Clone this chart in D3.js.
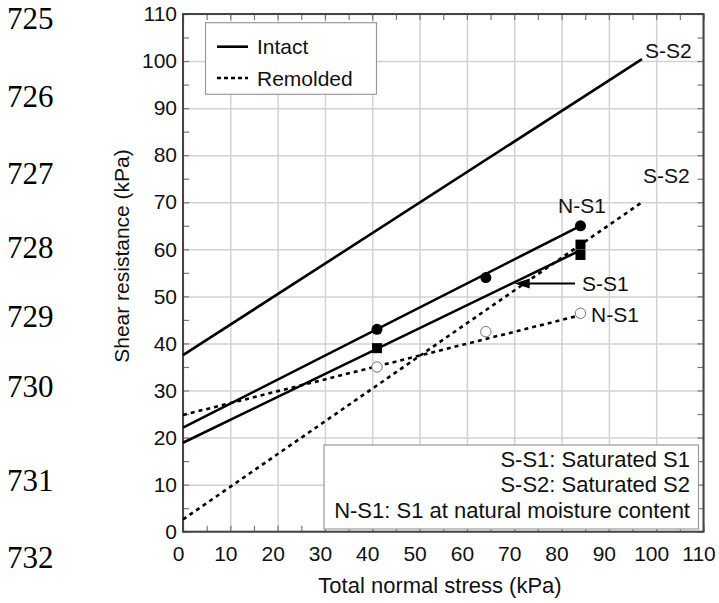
<!DOCTYPE html>
<html>
<head>
<meta charset="utf-8">
<script src="https://cdn.jsdelivr.net/npm/d3@7"></script>
<style>
  body { margin: 0; background: #fff; }
  text { font-family: "Liberation Sans", Arial, sans-serif; fill: #111; }
  .lineno { font-family: "Liberation Serif", "Times New Roman", serif; fill: #000; }
</style>
</head>
<body>
<div id="chart"></div>
<script>
// tick values (kPa)
const xTickValues = [0, 10, 20, 30, 40, 50, 60, 70, 80, 90, 100, 110];
const yTickValues = [0, 10, 20, 30, 40, 50, 60, 70, 80, 90, 100, 110];
const minorTickValues = d3.range(0, 111, 5);

// manuscript line numbers in the left margin
const lineNumbers = ["725", "726", "727", "728", "729", "730", "731", "732"];

// measured points [normal stress, shear resistance]
const intactNS1 = [[41, 43], [64, 54], [84, 65]];
const intactSS1 = [[41, 39], [84, 61], [84, 58.8]];
const remoldedNS1 = [[41, 35], [64, 42.5], [84, 46.4]];

// fitted failure envelopes (start, end)
const intactSS2Fit = [[0, 37.5], [97, 100.4]];
const intactNS1Fit = [[0, 22.1], [84, 65]];
const intactSS1Fit = [[0, 18.9], [84, 59.8]];
const remoldedSS2Fit = [[0, 2.6], [97, 70]];
const remoldedNS1Fit = [[0, 24.8], [84, 46]];

const legendNotes = ["S-S1: Saturated S1", "S-S2: Saturated S2", "N-S1: S1 at natural moisture content"];

let width = 719, height = 603;
let plotLeft = 183, plotRight = 703.5, plotTop = 14, plotBottom = 531.7;
// baselines of the margin numbers (page text lines, not evenly spaced)
let lineNoY = [29, 107, 184, 258, 327, 397, 491, 568];

let svg = d3.select("#chart").append("svg")
    .attr("width", width)
    .attr("height", height);

let x = d3.scaleLinear().domain([0, 110]).range([plotLeft, plotRight]);
let y = d3.scaleLinear().domain([0, 110]).range([plotBottom, plotTop]);

// line numbers
svg.selectAll(".lineno")
    .data(lineNumbers)
    .enter()
    .append("text")
    .attr("class", "lineno")
    .attr("x", 7)
    .attr("y", (d, i) => lineNoY[i])
    .attr("font-size", 31)
    .text(d => d);

// grid
let grid = svg.append("g");
grid.append("g")
    .attr("transform", `translate(0,${plotBottom})`)
    .call(d3.axisBottom(x).tickValues(xTickValues).tickSize(-(plotBottom - plotTop)).tickFormat(""));
grid.append("g")
    .attr("transform", `translate(${plotLeft},0)`)
    .call(d3.axisLeft(y).tickValues(yTickValues).tickSize(-(plotRight - plotLeft)).tickFormat(""));
grid.selectAll(".domain").remove();
grid.selectAll("line").attr("stroke", "#d2d2d2").attr("stroke-width", 1.5);

// inward minor ticks on all four sides
let ticks = svg.append("g");
ticks.append("g").attr("transform", `translate(0,${plotBottom})`)
    .call(d3.axisBottom(x).tickValues(minorTickValues).tickSize(-6).tickFormat(""));
ticks.append("g").attr("transform", `translate(0,${plotTop})`)
    .call(d3.axisTop(x).tickValues(minorTickValues).tickSize(-6).tickFormat(""));
ticks.append("g").attr("transform", `translate(${plotLeft},0)`)
    .call(d3.axisLeft(y).tickValues(minorTickValues).tickSize(-6).tickFormat(""));
ticks.append("g").attr("transform", `translate(${plotRight},0)`)
    .call(d3.axisRight(y).tickValues(minorTickValues).tickSize(-6).tickFormat(""));
ticks.selectAll(".domain").remove();
ticks.selectAll("line").attr("stroke", "#777").attr("stroke-width", 1.2);

// tick labels
let xAxis = svg.append("g")
    .attr("transform", `translate(0,${plotBottom})`)
    .call(d3.axisBottom(x).tickValues(xTickValues).tickSize(0).tickPadding(14));
xAxis.selectAll("text").attr("font-size", 21).attr("dx", -5)
    .attr("font-family", "Liberation Sans, Arial, sans-serif").attr("fill", "#111");
let yAxis = svg.append("g")
    .attr("transform", `translate(${plotLeft},0)`)
    .call(d3.axisLeft(y).tickValues(yTickValues).tickSize(0).tickPadding(6));
yAxis.selectAll("text").attr("font-size", 21)
    .attr("font-family", "Liberation Sans, Arial, sans-serif").attr("fill", "#111");
svg.selectAll(".domain").remove();

// frame
svg.append("rect")
    .attr("x", plotLeft).attr("y", plotTop)
    .attr("width", plotRight - plotLeft).attr("height", plotBottom - plotTop)
    .attr("fill", "none").attr("stroke", "#444").attr("stroke-width", 2);

// axis titles
svg.append("text")
    .attr("x", 440).attr("y", 593)
    .attr("text-anchor", "middle").attr("font-size", 22)
    .text("Total normal stress (kPa)");
svg.append("text")
    .attr("transform", "translate(129,256) rotate(-90)")
    .attr("text-anchor", "middle").attr("font-size", 21)
    .text("Shear resistance (kPa)");

// bottom-right note box (drawn before lines so lines stay on top)
let notes = svg.append("g");
notes.append("rect")
    .attr("x", 324).attr("y", 445).attr("width", 374.5).attr("height", 84)
    .attr("fill", "#fff").attr("stroke", "#999").attr("stroke-width", 1.2);
notes.selectAll("text")
    .data(legendNotes)
    .enter()
    .append("text")
    .attr("x", 690)
    .attr("y", (d, i) => 467 + i * 25.3)
    .attr("text-anchor", "end")
    .attr("font-size", 22)
    .text(d => d);

// envelopes
let line = d3.line().x(d => x(d[0])).y(d => y(d[1]));
[intactSS2Fit, intactNS1Fit, intactSS1Fit].forEach(f => {
    svg.append("path").attr("d", line(f))
        .attr("fill", "none").attr("stroke", "#000").attr("stroke-width", 2.6);
});
[remoldedSS2Fit, remoldedNS1Fit].forEach(f => {
    svg.append("path").attr("d", line(f))
        .attr("fill", "none").attr("stroke", "#000").attr("stroke-width", 2.6)
        .attr("stroke-dasharray", "4,4");
});

// markers
svg.selectAll(".dot")
    .data(intactNS1)
    .enter()
    .append("circle")
    .attr("cx", d => x(d[0])).attr("cy", d => y(d[1]))
    .attr("r", 5.5).attr("fill", "#000");
svg.selectAll(".sq")
    .data(intactSS1)
    .enter()
    .append("rect")
    .attr("x", d => x(d[0]) - 5).attr("y", d => y(d[1]) - 5)
    .attr("width", 10).attr("height", 10).attr("fill", "#000");
svg.selectAll(".open")
    .data(remoldedNS1)
    .enter()
    .append("circle")
    .attr("cx", d => x(d[0])).attr("cy", d => y(d[1]))
    .attr("r", 5.2).attr("fill", "#fff").attr("stroke", "#777").attr("stroke-width", 1);

// curve labels
let labels = [
    { text: "S-S2", x: 645, y: 58 },
    { text: "N-S1", x: 558, y: 212.5 },
    { text: "S-S2", x: 643, y: 183 },
    { text: "S-S1", x: 582, y: 290.5 },
    { text: "N-S1", x: 591, y: 321.5 }
];
svg.selectAll(".lab")
    .data(labels)
    .enter()
    .append("text")
    .attr("x", d => d.x).attr("y", d => d.y)
    .attr("font-size", 21)
    .text(d => d.text);

// arrow pointing at the S-S1 envelope
let tip = [x(70.1), 283.5];
svg.append("line")
    .attr("x1", 575).attr("y1", tip[1]).attr("x2", tip[0] + 10).attr("y2", tip[1])
    .attr("stroke", "#000").attr("stroke-width", 2);
svg.append("path")
    .attr("d", `M${tip[0]},${tip[1]} L${tip[0] + 15},${tip[1] - 5} L${tip[0] + 15},${tip[1] + 5} Z`)
    .attr("fill", "#000");

// top-left legend
let legend = svg.append("g");
legend.append("rect")
    .attr("x", 205.5).attr("y", 22.7).attr("width", 171).attr("height", 71.6)
    .attr("fill", "#fff").attr("stroke", "#999").attr("stroke-width", 1.2);
legend.append("line")
    .attr("x1", 217).attr("x2", 248).attr("y1", 46.7).attr("y2", 46.7)
    .attr("stroke", "#000").attr("stroke-width", 2.6);
legend.append("line")
    .attr("x1", 217).attr("x2", 248).attr("y1", 78).attr("y2", 78)
    .attr("stroke", "#000").attr("stroke-width", 2.6).attr("stroke-dasharray", "4,3");
legend.append("text").attr("x", 257).attr("y", 54).attr("font-size", 21).text("Intact");
legend.append("text").attr("x", 257).attr("y", 85.5).attr("font-size", 21).text("Remolded");
</script>
</body>
</html>
